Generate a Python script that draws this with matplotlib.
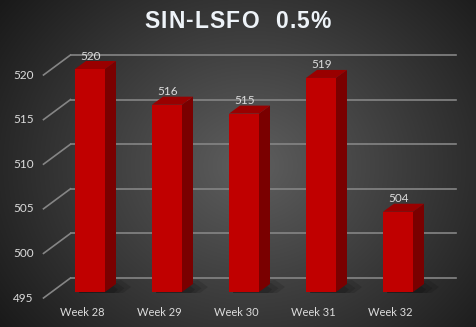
import matplotlib
matplotlib.use("Agg")
import matplotlib.pyplot as plt
import numpy as np
from matplotlib.patches import Polygon
from matplotlib.font_manager import FontProperties

weeks = ["Week 28", "Week 29", "Week 30", "Week 31", "Week 32"]
prices = [520, 516, 515, 519, 504]
y_ticks = [495, 500, 505, 510, 515, 520]
title = "SIN-LSFO  0.5%"

W, H = 476, 327
fig = plt.figure(figsize=(W / 100, H / 100), dpi=100)

# --- background: dark radial gradient ---
bg = fig.add_axes([0, 0, 1, 1])
yy, xx = np.mgrid[0:H, 0:W]
r = np.sqrt(((xx - 250) / 290.0) ** 2 + ((yy - 165) / 250.0) ** 2)
shade = np.clip(0.37 - 0.25 * r, 0.1, 0.4)
img = np.dstack([shade, shade, shade])
bg.imshow(img, aspect="auto", extent=[0, 1, 0, 1], interpolation="bilinear")
bg.set_xlim(0, 1)
bg.set_ylim(0, 1)
bg.axis("off")

# --- main axes: front plane of the bars ---
ax_w, ax_h = 385.0, 223.0
ax = fig.add_axes([51.5 / W, (H - 292) / H, ax_w / W, ax_h / H])
ax.set_xlim(-0.5, 4.5)
ax.set_ylim(495, 520)
ax.axis("off")

px_x = 5.0 / ax_w      # data units per pixel
px_y = 25.0 / ax_h

back_dx, back_dy = 19 * px_x, 14 * px_y     # back wall offset
front_dx, front_dy = -8 * px_x, -6 * px_y   # floor front edge offset
side_dx, side_dy = 11 * px_x, 8 * px_y      # bar depth
hw = 15 * px_x

grid_col = "#858585"
text_col = "#dcdcdc"
font = ["Lato", "DejaVu Sans"]

# gridlines on back wall + diagonals on side wall
for t in y_ticks:
    ax.plot([-0.5 + back_dx, 4.5 + back_dx], [t + back_dy] * 2,
            color=grid_col, lw=1.2, clip_on=False, zorder=1)
    ax.plot([-0.5 + front_dx, -0.5 + back_dx], [t + front_dy, t + back_dy],
            color=grid_col, lw=1.2, clip_on=False, zorder=1)
    ax.text(-0.5 + front_dx - 10 * px_x, t + front_dy, str(t),
            ha="right", va="center", color=text_col, fontsize=8.5,
            family=font)

# bars
for i, (w, p) in enumerate(zip(weeks, prices)):
    # floor shadow
    for k, a in enumerate([0.12, 0.12, 0.15]):
        s = 1.0 - k * 0.25
        shadow = Polygon([
            (i - hw + 4 * px_x, 495 - 1 * px_y),
            (i + hw + 18 * px_x * s, 495 - 1 * px_y),
            (i + hw + 26 * px_x * s, 495 + 5 * px_y * s),
            (i + hw + 16 * px_x * s, 495 + 12 * px_y * s),
            (i - hw + 6 * px_x, 495 + 6 * px_y),
        ], closed=True, facecolor="black", edgecolor="none", alpha=a,
            clip_on=False, zorder=2)
        ax.add_patch(shadow)

    ax.bar(i, p - 495, bottom=495, width=2 * hw, color="#c00000",
           edgecolor="none", zorder=4)
    side = Polygon([(i + hw, 495), (i + hw + side_dx, 495 + side_dy),
                    (i + hw + side_dx, p + side_dy), (i + hw, p)],
                   closed=True, facecolor="#7a0000", edgecolor="none",
                   clip_on=False, zorder=4)
    top = Polygon([(i - hw, p), (i + hw, p), (i + hw + side_dx, p + side_dy),
                   (i - hw + side_dx, p + side_dy)],
                  closed=True, facecolor="#990000", edgecolor="none",
                  clip_on=False, zorder=4)
    ax.add_patch(side)
    ax.add_patch(top)

    ax.text(i + 1 * px_x, p + 13 * px_y, str(p), ha="center", va="center",
            color=text_col, fontsize=8.5, family=font, zorder=5)
    ax.text(i + front_dx, 495 + front_dy - 15 * px_y, w, ha="center",
            va="center", color=text_col, fontsize=8, family=font)

# title with a little letter spacing
fp = FontProperties(family=["Liberation Sans", "DejaVu Sans"],
                    weight="bold", size=16.5)
renderer = fig.canvas.get_renderer()
widths = [renderer.get_text_width_height_descent(c, fp, ismath=False)[0]
          for c in title]
tracking = 1.2
total = sum(widths) + tracking * (len(title) - 1)
x = 237.5 - total / 2
for c, cw in zip(title, widths):
    fig.text(x / W, 1 - 21 / H, c, ha="left", va="center",
             fontproperties=fp, color="#eef3f8")
    x += cw + tracking

fig.savefig("out.png", dpi=100)
